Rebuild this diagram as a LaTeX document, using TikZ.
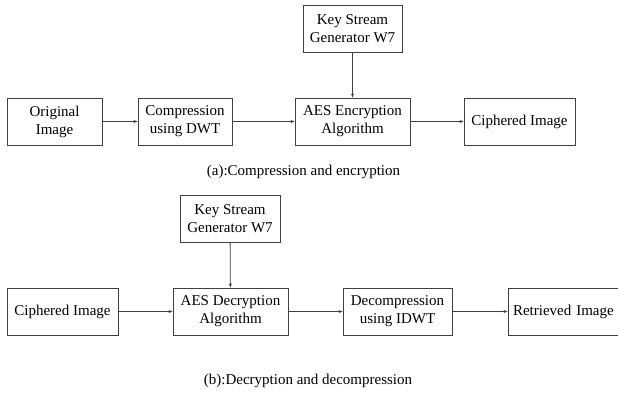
\documentclass[tikz,border=0pt]{standalone}
\usepackage{fontspec}
\setmainfont{Liberation Serif}
\usetikzlibrary{arrows.meta}
\begin{document}
\begin{tikzpicture}[x=1pt,y=-1pt,
  blk/.style={draw=black!75, line width=0.9pt, rectangle, inner sep=0pt, minimum height=47pt, align=center, font=\fontsize{15}{18}\selectfont},
  captxt/.style={inner sep=0pt, font=\fontsize{15}{18}\selectfont},
  conn/.style={draw=black!75, line width=0.8pt, -{Stealth[length=4pt,width=3pt]}}]
\useasboundingbox (0,0) rectangle (618,396);
% (a)
\node[blk, minimum width=95pt] (orig) at (54.5,121.5) {Original\\Image};
\node[blk, minimum width=94pt] (comp) at (185,121.5) {Compression\\using DWT};
\node[blk, minimum width=115pt] (aesE) at (352.5,121.5) {AES Encryption\\Algorithm};
\node[blk, minimum width=111pt] (ciph) at (519.5,121.5) {Ciphered Image};
\node[blk, minimum width=99pt] (keyA) at (352.5,28.5) {Key Stream\\Generator W7};
\node[captxt] (capA) at (303.5,172) {(a):Compression and encryption};
\draw[conn] (orig) -- (comp);
\draw[conn] (comp) -- (aesE);
\draw[conn] (aesE) -- (ciph);
\draw[conn] (keyA) -- (aesE);
% (b)
\node[blk, minimum width=100pt] (keyB) at (230,218.5) {Key Stream\\Generator W7};
\node[blk, minimum width=111pt] (ciph2) at (62.5,311.5) {Ciphered Image};
\node[blk, minimum width=115pt] (aesD) at (230.5,311.5) {AES Decryption\\Algorithm};
\node[blk, minimum width=109pt] (decomp) at (397.5,311.5) {Decompression\\using IDWT};
\node[blk, minimum width=118pt, text width=118pt, align=left] (retr) at (567,311.5) {\hspace{5pt}Retrieved Image};
\node[captxt] (capB) at (308,381) {(b):Decryption and decompression};
\draw[conn] (ciph2) -- (aesD);
\draw[conn] (aesD) -- (decomp);
\draw[conn] (decomp) -- (retr);
\draw[conn] (keyB) -- (aesD);
\end{tikzpicture}
\end{document}
